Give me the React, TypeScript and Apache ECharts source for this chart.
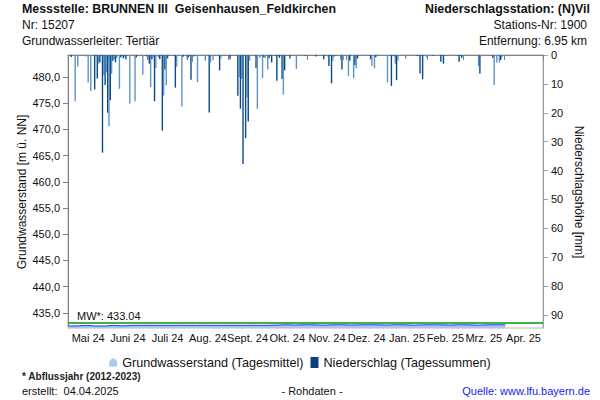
import React, { useEffect, useRef } from 'react';
import * as echarts from 'echarts';

// x = day index, day 0 = 2024-05-01
const monthLabels = ['Mai 24', 'Juni 24', 'Juli 24', 'Aug. 24', 'Sept. 24', 'Okt. 24', 'Nov. 24', 'Dez. 24', 'Jan. 25', 'Feb. 25', 'Mrz. 25', 'Apr. 25'];
const monthStarts = [0, 31, 61, 92, 123, 153, 184, 214, 245, 276, 304, 335, 365];

const leftTicks = [435, 440, 445, 450, 455, 460, 465, 470, 475, 480];
const rightTicks = [0, 10, 20, 30, 40, 50, 60, 70, 80, 90];

// Niederschlag (Tagessummen) in mm
const precipDay = [2, 5, 7, 13, 15, 17, 20, 22, 23, 24, 26, 27, 28, 29, 30, 31, 32, 33, 34, 35, 36, 37, 39, 40, 42, 43, 44, 47, 51, 52, 57, 60, 61, 62, 63, 64, 65, 66, 67, 69, 70, 72, 73, 74, 75, 76, 82, 83, 87, 88, 91, 92, 94, 95, 96, 99, 105, 108, 109, 111, 116, 117, 124, 130, 131, 132, 133, 134, 136, 137, 138, 139, 144, 145, 147, 149, 150, 151, 153, 154, 156, 160, 162, 164, 165, 166, 170, 175, 182, 190, 196, 199, 200, 202, 203, 204, 209, 210, 211, 215, 216, 219, 220, 221, 222, 229, 232, 233, 235, 236, 245, 248, 250, 251, 252, 253, 259, 268, 269, 270, 272, 275, 280, 286, 288, 300, 302, 315, 316, 317, 326, 327, 329, 331, 332, 333];
const precipMm = [0.7, 16, 4, 0.5, 9.5, 12.5, 11.9, 8.1, 3, 2.5, 33.8, 7, 10.4, 6, 20, 24.7, 15.7, 6.5, 2, 1.5, 2.5, 1, 11.7, 0.8, 1.2, 0.6, 1.5, 16.8, 16, 0.8, 6.8, 0.5, 1.5, 3, 11.1, 1.5, 0.8, 16, 4.5, 0.8, 1.5, 26.2, 14, 5, 10.5, 1.2, 11.3, 4, 17.8, 0.6, 1.5, 0.8, 8.6, 2.5, 0.5, 9.4, 2, 19.9, 2.6, 1.8, 5.3, 1.2, 1.5, 14.1, 7.6, 18.6, 8.2, 37.7, 28.8, 14.6, 23, 2, 4.5, 18.6, 1, 8, 0.8, 1, 5, 1, 2.6, 8.9, 1, 8.3, 13.7, 5.3, 1.2, 4.8, 0.3, 0.5, 1.5, 0.5, 3.8, 9.8, 2, 0.5, 1.6, 5, 1.8, 7.3, 2, 8.1, 3.5, 4.6, 1.2, 0.3, 1.5, 3.8, 4.6, 0.8, 9.5, 10.7, 0.4, 3, 8.7, 2, 1.2, 0.4, 0.3, 6.4, 8.4, 0.8, 0.3, 2.3, 3, 2.3, 1, 3.8, 6.4, 0.5, 1, 10.4, 2.6, 2.6, 1.7, 0.8];

// Grundwasserstand (Tagesmittel) in m ü. NN
const gwDay = [0, 7, 14, 21, 28, 35, 42, 49, 56, 63, 70, 77, 84, 91, 98, 105, 112, 119, 126, 133, 140, 147, 154, 161, 168, 175, 182, 189, 196, 203, 210, 217, 224, 231, 238, 245, 252, 259, 266, 273, 280, 287, 294, 301, 308, 315, 322, 329, 336];
const gwLevel = [432.49, 432.5, 432.6, 432.49, 432.48, 432.6, 432.52, 432.6, 432.6, 432.61, 432.6, 432.6, 432.61, 432.6, 432.6, 432.61, 432.6, 432.6, 432.61, 432.6, 432.61, 432.6, 432.61, 432.66, 432.72, 432.66, 432.72, 432.7, 432.64, 432.7, 432.72, 432.66, 432.7, 432.72, 432.7, 432.66, 432.72, 432.7, 432.64, 432.7, 432.72, 432.7, 432.66, 432.72, 432.7, 432.64, 432.7, 432.72, 432.7];

const meanLevel = 433.04;

const FONT = 'Liberation Sans, Arial, sans-serif';

export default function App() {
  const ref = useRef<HTMLDivElement>(null);
  useEffect(() => {
    const chart = echarts.init(ref.current!, null, { renderer: 'svg' });
    const labelMids = monthLabels.map((_, i) => (monthStarts[i] + monthStarts[i + 1]) / 2);
    const option: any = {
      animation: false,
      textStyle: { fontFamily: FONT },
      grid: { left: 68, right: 57, top: 55, bottom: 72, show: true, borderColor: '#b4b4b4', borderWidth: 1, backgroundColor: 'transparent' },
      legend: {
        top: 351,
        left: 'center',
        itemWidth: 8,
        itemHeight: 11,
        itemGap: 7,
        textStyle: { fontSize: 12.6, color: '#111', fontFamily: FONT },
        data: [
          { name: 'Grundwasserstand (Tagesmittel)', icon: 'path://M0,10 L0,7 C0,2 3,0 5,0 C7,0 10,2 10,7 L10,10 Z', itemStyle: { color: '#a9c8f0' } },
          { name: 'Niederschlag (Tagessummen)', icon: 'rect', itemStyle: { color: '#0b3f7e' } },
        ],
      },
      xAxis: {
        type: 'value',
        min: 0,
        max: 365,
        splitLine: { show: false },
        axisLine: { lineStyle: { color: '#808080' } },
        axisTick: { show: true, length: 5, lineStyle: { color: '#808080' }, customValues: monthStarts.slice(1) },
        axisLabel: {
          customValues: labelMids,
          fontSize: 11,
          color: '#111',
          margin: 4,
          fontFamily: FONT,
          formatter: (v: number) => {
            let best = 0;
            labelMids.forEach((m, i) => { if (Math.abs(m - v) < Math.abs(labelMids[best] - v)) best = i; });
            return monthLabels[best];
          },
        },
      },
      yAxis: [
        {
          type: 'value',
          min: 432.1,
          max: 484.2,
          splitLine: { show: false },
          axisLine: { show: true, lineStyle: { color: '#808080' } },
          axisTick: { show: true, length: 5, lineStyle: { color: '#808080' }, customValues: leftTicks },
          axisLabel: {
            customValues: leftTicks,
            fontSize: 11,
            color: '#111',
            margin: 8,
            fontFamily: FONT,
            formatter: (v: number) => v.toFixed(1).replace('.', ','),
          },
        },
        {
          type: 'value',
          min: 0,
          max: 94.5,
          inverse: true,
          position: 'right',
          splitLine: { show: false },
          axisLine: { show: true, lineStyle: { color: '#a0a0a0' } },
          axisTick: { show: true, length: 5, lineStyle: { color: '#a0a0a0' }, customValues: rightTicks },
          axisLabel: { customValues: rightTicks, fontSize: 11, color: '#111', margin: 8, fontFamily: FONT },
        },
      ],
      series: [
        {
          name: 'Grundwasserstand (Tagesmittel)',
          type: 'line',
          yAxisIndex: 0,
          showSymbol: false,
          data: gwDay.map((d, i) => [d, gwLevel[i]]),
          lineStyle: { color: '#1f3cf5', width: 1 },
          itemStyle: { color: '#a9c8f0' },
          areaStyle: { color: '#a9c6ec', opacity: 1, origin: 'start' },
          z: 3,
          markLine: {
            silent: true,
            symbol: 'none',
            lineStyle: { color: '#009900', width: 1.5, type: 'solid' },
            label: {
              show: true,
              position: 'insideStartTop',
              formatter: 'MW*: ' + meanLevel.toFixed(2),
              color: '#111',
              fontSize: 11,
              fontFamily: FONT,
              distance: [9, 2],
            },
            data: [{ yAxis: meanLevel }],
          },
        },
        {
          name: 'Niederschlag (Tagessummen)',
          type: 'bar',
          yAxisIndex: 1,
          barWidth: 1.4,
          data: precipDay.map((d, i) => ({
            value: [d + 0.5, precipMm[i]],
            itemStyle: { color: d % 2 === 0 ? '#0b4a8a' : '#5f93c8' },
          })),
          itemStyle: { color: '#0e4c8e' },
          z: 2,
        },
      ],
      graphic: [
        { type: 'text', left: 22, top: 3, style: { text: 'Messstelle: BRUNNEN III  Geisenhausen_Feldkirchen', font: 'bold 12.4px ' + FONT, fill: '#111' } },
        { type: 'text', left: 22, top: 19, style: { text: 'Nr: 15207', font: '12px ' + FONT, fill: '#111' } },
        { type: 'text', left: 22, top: 35, style: { text: 'Grundwasserleiter: Tertiär', font: '12px ' + FONT, fill: '#111' } },
        { type: 'text', right: 10, top: 3, style: { text: 'Niederschlagsstation: (N)Vil', font: 'bold 12.4px ' + FONT, fill: '#111' } },
        { type: 'text', right: 13, top: 19, style: { text: 'Stations-Nr: 1900', font: '12px ' + FONT, fill: '#111' } },
        { type: 'text', right: 13, top: 35, style: { text: 'Entfernung: 6.95 km', font: '12px ' + FONT, fill: '#111' } },
        { type: 'text', x: 22, y: 192, rotation: Math.PI / 2, style: { text: 'Grundwasserstand [m ü. NN]', font: '12px ' + FONT, fill: '#111', align: 'center', verticalAlign: 'middle' } },
        { type: 'text', x: 579, y: 192, rotation: -Math.PI / 2, style: { text: 'Niederschlagshöhe [mm]', font: '12px ' + FONT, fill: '#111', align: 'center', verticalAlign: 'middle' } },
        { type: 'text', left: 22, top: 371, style: { text: '* Abflussjahr (2012-2023)', font: 'bold 10px ' + FONT, fill: '#222' } },
        { type: 'text', left: 22, top: 385, style: { text: 'erstellt:  04.04.2025', font: '11px ' + FONT, fill: '#111' } },
        { type: 'text', x: 312, y: 391, style: { text: '- Rohdaten -', font: '11px ' + FONT, fill: '#111', align: 'center', verticalAlign: 'middle' } },
        { type: 'text', right: 10, top: 385, style: { text: 'Quelle: www.lfu.bayern.de', font: '11px ' + FONT, fill: '#1a1aee' } },
      ],
    };
    chart.setOption(option);
    return () => chart.dispose();
  }, []);
  return <div ref={ref} style={{ width: 600, height: 400, position: 'absolute', left: 0, top: 0 }} />;
}
